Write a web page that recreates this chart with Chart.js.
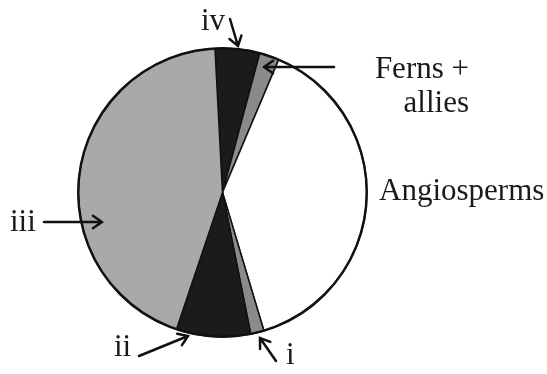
<!DOCTYPE html>
<html>
<head>
<meta charset="utf-8">
<script src="https://cdn.jsdelivr.net/npm/chart.js@4/dist/chart.umd.min.js"></script>
<style>
  html, body { margin: 0; padding: 0; background: #fff; }
  canvas { display: block; }
</style>
</head>
<body>
<canvas id="pieChart" width="547" height="374"></canvas>
<script>
// slices clockwise from the top
const groups = ['iv', 'Ferns + allies', 'Angiosperms', 'i', 'ii', 'iii'];
const shares = [5.0, 2.2, 39.0, 1.5, 8.3, 44.0];
const sliceColors = ['#1b1b1b', '#8a8a8a', '#ffffff', '#8a8a8a', '#1b1b1b', '#a9a9a9'];

// labels drawn next to the pie, with arrows pointing into it
const callouts = [
  { lines: ['iv'], x: 201, y: 30, align: 'left', arrow: [230, 19, 238, 46] },
  { lines: ['Ferns +', 'allies'], x: 469, y: 78, align: 'right', arrow: [334, 67, 264, 67] },
  { lines: ['Angiosperms'], x: 379, y: 200, align: 'left' },
  { lines: ['iii'], x: 10, y: 231, align: 'left', arrow: [44, 222, 102, 222] },
  { lines: ['ii'], x: 114, y: 356, align: 'left', arrow: [139, 356, 188, 336] },
  { lines: ['i'], x: 286, y: 364, align: 'left', arrow: [276, 361, 260, 338] }
];

function drawArrow(ctx, x1, y1, x2, y2) {
  const a = Math.atan2(y2 - y1, x2 - x1);
  const len = 11, spread = 0.6;
  ctx.beginPath();
  ctx.moveTo(x1, y1);
  ctx.lineTo(x2, y2);
  ctx.moveTo(x2 - len * Math.cos(a - spread), y2 - len * Math.sin(a - spread));
  ctx.lineTo(x2, y2);
  ctx.lineTo(x2 - len * Math.cos(a + spread), y2 - len * Math.sin(a + spread));
  ctx.stroke();
}

const calloutPlugin = {
  id: 'callouts',
  afterDraw(chart) {
    const ctx = chart.ctx;
    const arc = chart.getDatasetMeta(0).data[0];
    ctx.save();
    // heavier outline round the whole pie
    ctx.strokeStyle = '#111';
    ctx.lineWidth = 2.5;
    ctx.beginPath();
    ctx.arc(arc.x, arc.y, arc.outerRadius, 0, Math.PI * 2);
    ctx.stroke();

    ctx.fillStyle = '#1a1a1a';
    ctx.font = '31px "Liberation Serif", "Times New Roman", serif';
    ctx.lineWidth = 2.5;
    ctx.lineCap = 'round';
    callouts.forEach(c => {
      ctx.textAlign = c.align;
      c.lines.forEach((t, i) => ctx.fillText(t, c.x, c.y + i * 34));
      if (c.arrow) drawArrow(ctx, ...c.arrow);
    });
    ctx.restore();
  }
};

const ctx = document.getElementById('pieChart').getContext('2d');
const pieChart = new Chart(ctx, {
  type: 'pie',
  data: {
    labels: groups,
    datasets: [{
      data: shares,
      backgroundColor: sliceColors,
      borderColor: '#111',
      borderWidth: 1.5
    }]
  },
  options: {
    responsive: false,
    animation: false,
    rotation: -3,
    layout: { padding: { left: 77.5, right: 179.5, top: 47.5, bottom: 36.5 } },
    plugins: {
      legend: { display: false },
      tooltip: { enabled: false }
    }
  },
  plugins: [calloutPlugin]
});
</script>
</body>
</html>
